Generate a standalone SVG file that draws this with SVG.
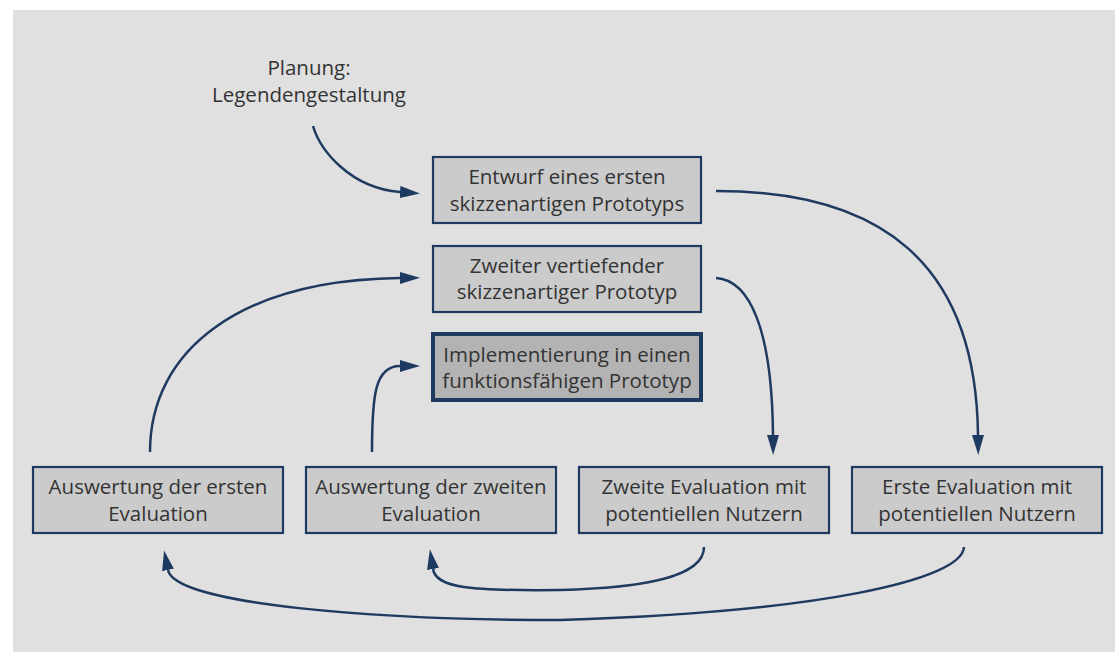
<svg xmlns="http://www.w3.org/2000/svg" width="1115" height="652" viewBox="0 0 1115 652">
<defs>
<style>
.bg{fill:#e0e0e0}
.box{fill:#cbcbcb;stroke:#1f3a60;stroke-width:2.2}
.boxh{fill:#b3b3b3;stroke:#1f3a60;stroke-width:4}
.t{font-family:"Open Sans","Noto Sans",sans-serif;font-size:20.5px;fill:#333;text-anchor:middle}
.c{fill:none;stroke:#1f3a60;stroke-width:2.5}
</style>
<marker id="ah" markerUnits="userSpaceOnUse" markerWidth="20" markerHeight="12" viewBox="0 0 20 12" refX="0" refY="6" orient="auto">
<path d="M0,0 L20,6 L0,12 z" fill="#1f3a60"/>
</marker>
</defs>
<rect class="bg" x="13" y="10" width="1102" height="642"/>
<g id="planung">
<text class="t" x="309" y="75">Planung:</text>
<text class="t" x="309" y="102">Legendengestaltung</text>
</g>
<g id="entwurf">
<rect class="box" x="433" y="157" width="268" height="66"/>
<text class="t" x="567" y="184">Entwurf eines ersten</text>
<text class="t" x="567" y="211">skizzenartigen Prototyps</text>
</g>
<g id="zweiter">
<rect class="box" x="433" y="246" width="268" height="66"/>
<text class="t" x="567" y="273">Zweiter vertiefender</text>
<text class="t" x="567" y="299">skizzenartiger Prototyp</text>
</g>
<g id="implementierung">
<rect class="boxh" x="433" y="334" width="268" height="66"/>
<text class="t" x="567" y="362">Implementierung in einen</text>
<text class="t" x="567" y="388">funktionsfähigen Prototyp</text>
</g>
<g id="auswertung1">
<rect class="box" x="33" y="467" width="250" height="66"/>
<text class="t" x="158" y="494">Auswertung der ersten</text>
<text class="t" x="158" y="521">Evaluation</text>
</g>
<g id="auswertung2">
<rect class="box" x="306" y="467" width="250" height="66"/>
<text class="t" x="431" y="494">Auswertung der zweiten</text>
<text class="t" x="431" y="521">Evaluation</text>
</g>
<g id="evaluation2">
<rect class="box" x="579" y="467" width="250" height="66"/>
<text class="t" x="704" y="494">Zweite Evaluation mit</text>
<text class="t" x="704" y="521">potentiellen Nutzern</text>
</g>
<g id="evaluation1">
<rect class="box" x="852" y="467" width="250" height="66"/>
<text class="t" x="977" y="494">Erste Evaluation mit</text>
<text class="t" x="977" y="521">potentiellen Nutzern</text>
</g>
<g id="connectors">
<path class="c" marker-end="url(#ah)" d="M313,126 C320,150 350,188 400,192"/>
<path class="c" marker-end="url(#ah)" d="M716,191 C880,191 976,262 978,435"/>
<path class="c" marker-end="url(#ah)" d="M716,278 C750,280 772,330 773,435"/>
<path class="c" marker-end="url(#ah)" d="M150,452 C150,350 240,280 400,278"/>
<path class="c" marker-end="url(#ah)" d="M372,452 C372,395 375,366 400,366"/>
<path class="c" marker-end="url(#ah)" d="M704,547 C704,578 640,588 560,590 C470,591 436,588 433,569"/>
<path class="c" marker-end="url(#ah)" d="M964,547 C962,580 820,612 560,620 C380,620 175,605 168,570"/>
</g>
</svg>
